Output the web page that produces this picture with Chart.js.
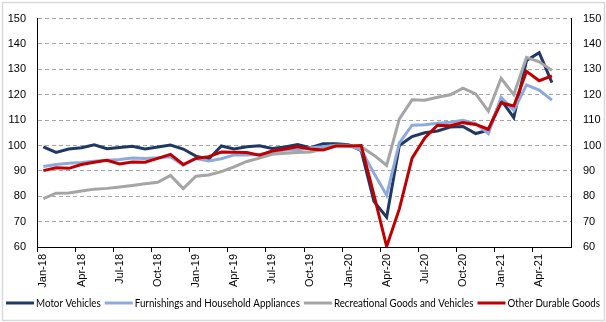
<!DOCTYPE html>
<html>
<head>
<meta charset="utf-8">
<script src="https://cdn.jsdelivr.net/npm/chart.js@4"></script>
<style>
  html, body { margin: 0; padding: 0; background: #fff; }
  #wrap { width: 606px; height: 322px; }
</style>
</head>
<body>
<div id="wrap"><canvas id="chart" width="606" height="322"></canvas></div>
<script>
// Monthly index values, Jan-18 .. May-21 (Jun-21 slot left empty on the axis)
const months = [
  'Jan-18','Feb-18','Mar-18','Apr-18','May-18','Jun-18','Jul-18','Aug-18','Sep-18','Oct-18','Nov-18','Dec-18',
  'Jan-19','Feb-19','Mar-19','Apr-19','May-19','Jun-19','Jul-19','Aug-19','Sep-19','Oct-19','Nov-19','Dec-19',
  'Jan-20','Feb-20','Mar-20','Apr-20','May-20','Jun-20','Jul-20','Aug-20','Sep-20','Oct-20','Nov-20','Dec-20',
  'Jan-21','Feb-21','Mar-21','Apr-21','May-21','Jun-21'
];

const motorVehicles = [
  99.5, 97.3, 98.6, 99.1, 100.3, 98.7, 99.2, 99.7, 98.6, 99.4, 100.2, 98.6,
  95.8, 94.6, 99.8, 98.6, 99.5, 99.9, 98.8, 99.4, 100.4, 99.1, 100.7, 100.7,
  100.3, 98.0, 78.0, 71.7, 100.0, 103.5, 105.0, 105.7, 107.3, 107.5, 104.7, 106.0,
  118.0, 111.0, 133.5, 136.6, 124.8
];

const furnishings = [
  91.7, 92.5, 93.0, 93.3, 93.8, 94.2, 94.5, 95.1, 94.9, 95.2, 95.6, 92.2,
  94.9, 93.9, 94.8, 96.3, 96.3, 96.5, 97.3, 98.2, 98.2, 99.1, 99.5, 100.1,
  100.1, 98.2, 89.1, 80.4, 101.0, 108.0, 108.2, 108.8, 109.2, 109.9, 108.6, 104.7,
  119.0, 113.8, 123.9, 121.8, 117.9
];

const recreational = [
  79.1, 81.2, 81.3, 82.1, 82.8, 83.1, 83.6, 84.2, 84.9, 85.5, 88.2, 83.0,
  87.9, 88.4, 89.7, 91.6, 93.7, 95.0, 96.5, 96.9, 97.2, 97.4, 98.5, 100.0,
  99.8, 99.5, 96.2, 92.2, 110.5, 118.0, 117.8, 119.0, 120.0, 122.6, 120.3, 113.5,
  126.5, 120.0, 134.7, 133.0, 129.6
];

const otherDurable = [
  90.1, 91.2, 91.0, 92.5, 93.4, 94.2, 92.7, 93.5, 93.4, 94.9, 96.5, 92.5,
  94.9, 95.6, 97.4, 97.3, 97.2, 96.2, 97.8, 98.6, 99.5, 98.6, 98.2, 99.8,
  99.8, 100.0, 80.5, 60.2, 75.0, 95.0, 103.0, 108.0, 107.8, 109.0, 108.3, 106.4,
  116.8, 115.6, 129.2, 125.5, 127.4
];

const seriesNames = ['Motor Vehicles', 'Furnishings and Household Appliances', 'Recreational Goods and Vehicles', 'Other Durable Goods'];
const seriesColors = ['#1f3864', '#8eaadb', '#a5a5a5', '#c00000'];

Chart.defaults.font.family = "'Liberation Sans', Arial, sans-serif";
Chart.defaults.font.size = 11;
Chart.defaults.color = '#000';

// white page with thin grey frame, as in the spreadsheet export
const framePlugin = {
    id: 'frame',
    beforeDraw(chart) {
        const c = chart.ctx;
        c.save();
        c.fillStyle = '#fff';
        c.fillRect(0, 0, chart.width, chart.height);
        c.strokeStyle = '#d9d9d9';
        c.lineWidth = 1.5;
        c.strokeRect(2.5, 2.5, chart.width - 4, chart.height - 4);
        c.restore();
    }
};

// one-row legend under the axis (the built-in one wraps at this width)
const legendRowPlugin = {
    id: 'legendRow',
    afterDraw(chart) {
        const c = chart.ctx;
        const y = 303, lineLen = 28, gap = 2, itemGap = 4;
        c.save();
        c.font = "11.5px Lato, 'Liberation Sans', sans-serif";
        const items = chart.data.datasets.map(ds => ({ label: ds.label, color: ds.borderColor, w: c.measureText(ds.label).width }));
        const textW = items.reduce((s, it) => s + it.w, 0);
        const fixedW = items.length * (lineLen + gap) + itemGap * (items.length - 1);
        const avail = chart.width - 12;
        const k = fixedW + textW > avail ? (avail - fixedW) / textW : 1;
        let x = (chart.width - (fixedW + textW * k)) / 2;
        items.forEach(it => {
            c.strokeStyle = it.color;
            c.lineWidth = 3;
            c.beginPath();
            c.moveTo(x, y);
            c.lineTo(x + lineLen, y);
            c.stroke();
            x += lineLen + gap;
            c.save();
            c.translate(x, y);
            c.scale(k, 1);
            c.fillStyle = '#000';
            c.textBaseline = 'middle';
            c.fillText(it.label, 0, 0);
            c.restore();
            x += it.w * k + itemGap;
        });
        c.restore();
    }
};

const allSeries = [motorVehicles, furnishings, recreational, otherDurable];

new Chart(document.getElementById('chart'), {
    type: 'line',
    data: {
        labels: months,
        datasets: allSeries.map((vals, i) => ({
            label: seriesNames[i],
            data: vals,
            borderColor: seriesColors[i],
            backgroundColor: seriesColors[i],
            borderWidth: 3,
            pointRadius: 0,
            tension: 0,
            order: 4 - i,
            yAxisID: 'y'
        }))
    },
    options: {
        responsive: false,
        animation: false,
        layout: { padding: { top: 17, left: 2, right: 2, bottom: 31 } },
        scales: {
            x: {
                offset: true,
                afterFit: (s) => { s.height = 44; },
                grid: {
                    offset: true,
                    drawOnChartArea: false,
                    drawTicks: true,
                    tickLength: 5,
                    color: (ctx) => (ctx.index !== undefined && ctx.index % 3 === 0) ? '#000' : 'rgba(0,0,0,0)'
                },
                border: { display: true, color: '#000', width: 1 },
                ticks: {
                    autoSkip: false,
                    maxRotation: 90,
                    minRotation: 90,
                    padding: 2,
                    callback: function (v, i) { return i % 3 === 0 ? this.getLabelForValue(v) : ''; }
                }
            },
            y: {
                position: 'left',
                min: 60, max: 150,
                afterFit: (s) => { s.width = 35; },
                ticks: { stepSize: 10, padding: 11 },
                grid: { color: '#a6a6a6', lineWidth: 1, drawTicks: false },
                border: { display: true, color: '#000', width: 1, dash: [4, 3] }
            },
            y1: {
                position: 'right',
                min: 60, max: 150,
                afterFit: (s) => { s.width = 33; },
                ticks: { stepSize: 10, padding: 12 },
                grid: { drawOnChartArea: false, drawTicks: false },
                border: { display: true, color: '#000', width: 1 }
            }
        },
        plugins: {
            legend: { display: false },
            tooltip: { enabled: false }
        }
    },
    plugins: [framePlugin, legendRowPlugin]
});
</script>
</body>
</html>
